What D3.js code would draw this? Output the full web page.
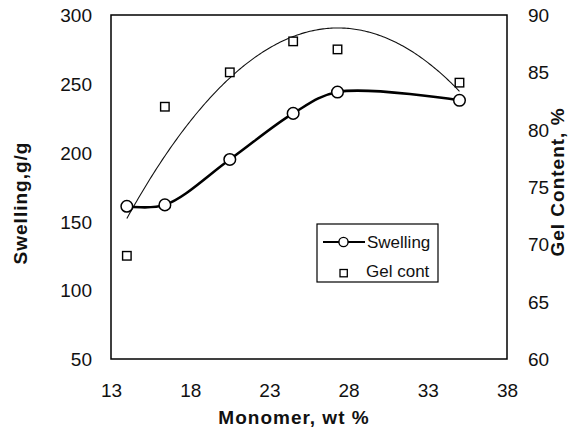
<!DOCTYPE html>
<html>
<head>
<meta charset="utf-8">
<script src="https://cdn.jsdelivr.net/npm/d3@7/dist/d3.min.js"></script>
<style>
  html, body { margin: 0; padding: 0; background: #fff; }
  svg { display: block; font-family: "Liberation Sans", Arial, sans-serif; }
</style>
</head>
<body>
<svg id="chart" width="582" height="433"></svg>
<script>
// Data
const monomer = [14, 16.4, 20.5, 24.5, 27.3, 35];
const swelling = [161, 162, 195, 228.5, 244, 238];
const gelContent = [69, 82, 85, 87.7, 87, 84.1];
const xTicks = [13, 18, 23, 28, 33, 38];
const yLeftTicks = [50, 100, 150, 200, 250, 300];
const yRightTicks = [60, 65, 70, 75, 80, 85, 90];
const seriesNames = ["Swelling", "Gel cont"];

const svg = d3.select("#chart");
const plot = { left: 111, right: 507, top: 15, bottom: 359 };

const x = d3.scaleLinear().domain([13, 38]).range([plot.left, plot.right]);
const yL = d3.scaleLinear().domain([50, 300]).range([plot.bottom, plot.top]);
const yR = d3.scaleLinear().domain([60, 90]).range([plot.bottom, plot.top]);

// Axes (labels only, no tick marks)
const axB = d3.axisBottom(x).tickValues(xTicks).tickSize(0).tickPadding(0).tickFormat(d3.format("d"));
const gB = svg.append("g").attr("transform", `translate(0,${plot.bottom})`).call(axB);
gB.select(".domain").remove();
gB.selectAll("text").attr("dy", null).attr("y", 38).attr("font-size", 19).attr("fill", "#111")
  .attr("font-family", "Liberation Sans, Arial, sans-serif");

const axL = d3.axisLeft(yL).tickValues(yLeftTicks).tickSize(0).tickPadding(0).tickFormat(d3.format("d"));
const gL = svg.append("g").attr("transform", `translate(${plot.left},0)`).call(axL);
gL.select(".domain").remove();
gL.selectAll("text").attr("x", -19).attr("dy", "0.35em").attr("font-size", 19).attr("fill", "#111")
  .attr("font-family", "Liberation Sans, Arial, sans-serif");

const axR = d3.axisRight(yR).tickValues(yRightTicks).tickSize(0).tickPadding(0).tickFormat(d3.format("d"));
const gR = svg.append("g").attr("transform", `translate(${plot.right},0)`).call(axR);
gR.select(".domain").remove();
gR.selectAll("text").attr("x", 21).attr("dy", "0.35em").attr("font-size", 19).attr("fill", "#111")
  .attr("font-family", "Liberation Sans, Arial, sans-serif");

// Plot frame
svg.append("rect")
  .attr("x", plot.left).attr("y", plot.top)
  .attr("width", plot.right - plot.left).attr("height", plot.bottom - plot.top)
  .attr("fill", "none").attr("stroke", "#000").attr("stroke-width", 1.5);

// Quadratic least-squares trendline for gel content
function polyFit(xs, ys, order) {
  const n = order + 1;
  const A = Array.from({length: n}, () => new Array(n + 1).fill(0));
  for (let i = 0; i < xs.length; i++) {
    for (let r = 0; r < n; r++) {
      for (let c = 0; c < n; c++) A[r][c] += Math.pow(xs[i], r + c);
      A[r][n] += ys[i] * Math.pow(xs[i], r);
    }
  }
  for (let p = 0; p < n; p++) {
    let max = p;
    for (let r = p + 1; r < n; r++) if (Math.abs(A[r][p]) > Math.abs(A[max][p])) max = r;
    [A[p], A[max]] = [A[max], A[p]];
    for (let r = p + 1; r < n; r++) {
      const f = A[r][p] / A[p][p];
      for (let c = p; c <= n; c++) A[r][c] -= f * A[p][c];
    }
  }
  const coef = new Array(n).fill(0);
  for (let r = n - 1; r >= 0; r--) {
    let s = A[r][n];
    for (let c = r + 1; c < n; c++) s -= A[r][c] * coef[c];
    coef[r] = s / A[r][r];
  }
  return v => coef.reduce((acc, k, i) => acc + k * Math.pow(v, i), 0);
}
const trend = polyFit(monomer, gelContent, 2);
const xMin = d3.min(monomer), xMax = d3.max(monomer);
const trendPts = d3.range(0, 201).map(i => {
  const v = xMin + (xMax - xMin) * i / 200;
  return [v, trend(v)];
});
svg.append("path")
  .datum(trendPts)
  .attr("fill", "none").attr("stroke", "#111").attr("stroke-width", 1.1)
  .attr("d", d3.line().x(d => x(d[0])).y(d => yR(d[1])));

// Swelling smoothed line
const swData = monomer.map((m, i) => [m, swelling[i]]);
svg.append("path")
  .datum(swData)
  .attr("fill", "none").attr("stroke", "#000").attr("stroke-width", 2.6)
  .attr("d", d3.line().x(d => x(d[0])).y(d => yL(d[1])).curve(d3.curveCatmullRom.alpha(0.5)));

// Gel squares
const sq = 8.5;
svg.append("g").selectAll("rect")
  .data(monomer.map((m, i) => [m, gelContent[i]]))
  .join("rect")
  .attr("x", d => x(d[0]) - sq / 2).attr("y", d => yR(d[1]) - sq / 2)
  .attr("width", sq).attr("height", sq)
  .attr("fill", "#fff").attr("stroke", "#000").attr("stroke-width", 1.4);

// Swelling circles
svg.append("g").selectAll("circle")
  .data(swData)
  .join("circle")
  .attr("cx", d => x(d[0])).attr("cy", d => yL(d[1])).attr("r", 5.8)
  .attr("fill", "#fff").attr("stroke", "#000").attr("stroke-width", 1.5);

// Legend
const lg = svg.append("g");
lg.append("rect").attr("x", 317).attr("y", 224).attr("width", 121).attr("height", 58)
  .attr("fill", "#fff").attr("stroke", "#000").attr("stroke-width", 1.2);
lg.append("line").attr("x1", 323).attr("x2", 365).attr("y1", 242).attr("y2", 242)
  .attr("stroke", "#000").attr("stroke-width", 2.2);
lg.append("circle").attr("cx", 343.5).attr("cy", 242).attr("r", 4.6)
  .attr("fill", "#fff").attr("stroke", "#000").attr("stroke-width", 1.4);
lg.append("rect").attr("x", 340).attr("y", 269.5).attr("width", 7.3).attr("height", 7.3)
  .attr("fill", "#fff").attr("stroke", "#000").attr("stroke-width", 1.3);
lg.append("text").attr("x", 367).attr("y", 247.5).attr("font-size", 17).attr("fill", "#111").text(seriesNames[0]);
lg.append("text").attr("x", 366).attr("y", 276.5).attr("font-size", 17).attr("fill", "#111").text(seriesNames[1]);

// Axis titles
svg.append("text").attr("x", 294).attr("y", 424).attr("text-anchor", "middle")
  .attr("font-size", 19).attr("font-weight", "bold").attr("letter-spacing", 1).attr("fill", "#111")
  .text("Monomer, wt %");
svg.append("text").attr("transform", "translate(27,203) rotate(-90)").attr("text-anchor", "middle")
  .attr("font-size", 19).attr("font-weight", "bold").attr("letter-spacing", 1).attr("fill", "#111")
  .text("Swelling,g/g");
svg.append("text").attr("transform", "translate(564,182) rotate(-90)").attr("text-anchor", "middle")
  .attr("font-size", 19).attr("font-weight", "bold").attr("letter-spacing", 1).attr("fill", "#111")
  .text("Gel Content, %");
</script>
</body>
</html>
